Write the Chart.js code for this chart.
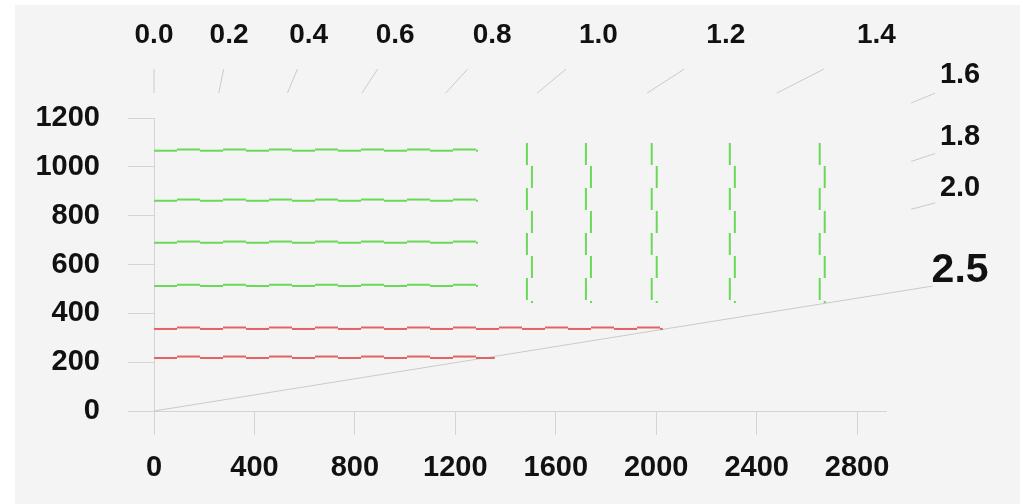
<!DOCTYPE html>
<html>
<head>
<meta charset="utf-8">
<script src="https://cdn.jsdelivr.net/npm/chart.js@4"></script>
<style>
  html, body { margin: 0; padding: 0; background: #fff; }
  #wrap { position: absolute; left: 15px; top: 5px; width: 1005px; height: 499px; background: #f4f4f4; }
</style>
</head>
<body>
<div id="wrap"><canvas id="c" width="1005" height="499"></canvas></div>
<script>
// axis ticks
const xTicks = [0, 400, 800, 1200, 1600, 2000, 2400, 2800];
const yTicks = [0, 200, 400, 600, 800, 1000, 1200];
const xMax = 2915;

// green horizontal levels (drawn from 0 to greenEnd)
const greenLevels = [1066, 861, 689, 512];
const greenEnd = 1290;

// green vertical dashed marks
const greenCols = [1485, 1720, 1982, 2293, 2651];
const greenTop = 1098;
const greenBottom = 434;

// red dashed levels and where each one stops
const redLevels = [336, 217];
const redEnds = [2026, 1357];

// rays from the origin: label and x per unit of y
const rayLabels = ["0.0", "0.2", "0.4", "0.6", "0.8", "1.0", "1.2", "1.4", "1.6", "1.8", "2.0", "2.5"];
const raySlopes = [0, 0.198, 0.408, 0.636, 0.892, 1.172, 1.508, 1.905, 2.39, 2.95, 3.65, 6.06];
const topRays = 8;      // first 8 rays end at the top, the rest on the right
const topCut = [1302, 1400];   // y range of the short top strokes
const rightCut = [3015, 3111]; // x range of the short right strokes
const fullRayEnd = 3101;       // last ray is drawn from the origin

const GREEN = "#6cd85a";
const RED = "#e06464";
const GREY = "#cacaca";
const FONT = '"Liberation Sans", Arial, sans-serif';

Chart.defaults.font.family = FONT;

function seg(points, color, width, dash, offset) {
  return {
    data: points,
    showLine: true,
    borderColor: color,
    borderWidth: width,
    borderDash: dash || [],
    borderDashOffset: offset || 0,
    pointRadius: 0,
    clip: false
  };
}

const datasets = [];

// wavy lines: two complementary dashed strokes, the second nudged a little
greenLevels.forEach(v => {
  datasets.push(seg([{x: 0, y: v}, {x: greenEnd, y: v}], GREEN, 2, [23, 23], 0));
  datasets.push(seg([{x: 0, y: v + 5}, {x: greenEnd, y: v + 5}], GREEN, 2, [23, 23], 23));
});
redLevels.forEach((v, i) => {
  datasets.push(seg([{x: 0, y: v}, {x: redEnds[i], y: v}], RED, 2, [23, 23], 0));
  datasets.push(seg([{x: 0, y: v + 6}, {x: redEnds[i], y: v + 6}], RED, 2, [23, 23], 23));
});
greenCols.forEach(v => {
  datasets.push(seg([{x: v, y: greenTop}, {x: v, y: greenBottom}], GREEN, 2, [22, 23], 0));
  datasets.push(seg([{x: v + 20, y: greenTop}, {x: v + 20, y: greenBottom + 8}], GREEN, 2, [22, 23], 22));
});

// rays
raySlopes.forEach((k, i) => {
  let pts;
  if (i < topRays) {
    pts = topCut.map(yv => ({x: k * yv, y: yv}));
  } else if (i < raySlopes.length - 1) {
    pts = rightCut.map(xv => ({x: xv, y: xv / k}));
  } else {
    pts = [{x: 0, y: 0}, {x: fullRayEnd, y: fullRayEnd / k}];
  }
  datasets.push(seg(pts, GREY, 1));
});

const rayText = {
  id: "rayText",
  afterDatasetsDraw(chart) {
    const {ctx, scales: {x, y}} = chart;
    ctx.save();
    ctx.fillStyle = "#111";
    ctx.textAlign = "center";
    ctx.textBaseline = "alphabetic";
    rayLabels.forEach((lab, i) => {
      const k = raySlopes[i];
      let vx, vy, size;
      if (i < topRays) {
        vy = 1506; vx = k * 1510; size = 28;
      } else {
        vx = 3210; vy = vx / k;
        size = i === rayLabels.length - 1 ? 41 : 29;
      }
      ctx.font = "bold " + size + "px " + FONT;
      ctx.fillText(lab, x.getPixelForValue(vx), y.getPixelForValue(vy));
    });
    ctx.restore();
  }
};

const tickFont = {size: 29, weight: "bold"};

new Chart(document.getElementById("c"), {
  type: "scatter",
  data: {datasets},
  options: {
    responsive: false,
    animation: false,
    layout: {padding: {top: 113, right: 134, left: 0, bottom: 0}},
    plugins: {legend: {display: false}, tooltip: {enabled: false}},
    scales: {
      x: {
        type: "linear",
        min: 0,
        max: xMax,
        afterBuildTicks: s => { s.ticks = xTicks.map(v => ({value: v})); },
        afterFit: s => { s.height = 93; },
        grid: {drawOnChartArea: false, tickLength: 24, color: "#d4d4d4"},
        border: {color: "#d4d4d4"},
        ticks: {font: tickFont, color: "#111", padding: 16, maxRotation: 0, autoSkip: false,
                callback: v => String(v)}
      },
      y: {
        type: "linear",
        min: 0,
        max: 1200,
        afterBuildTicks: s => { s.ticks = yTicks.map(v => ({value: v})); },
        afterFit: s => { s.width = 139; },
        grid: {drawOnChartArea: false, tickLength: 26, color: "#d4d4d4"},
        border: {color: "#d4d4d4"},
        ticks: {font: tickFont, color: "#111", padding: 28, autoSkip: false,
                callback: v => String(v)}
      }
    }
  },
  plugins: [rayText]
});
</script>
</body>
</html>
